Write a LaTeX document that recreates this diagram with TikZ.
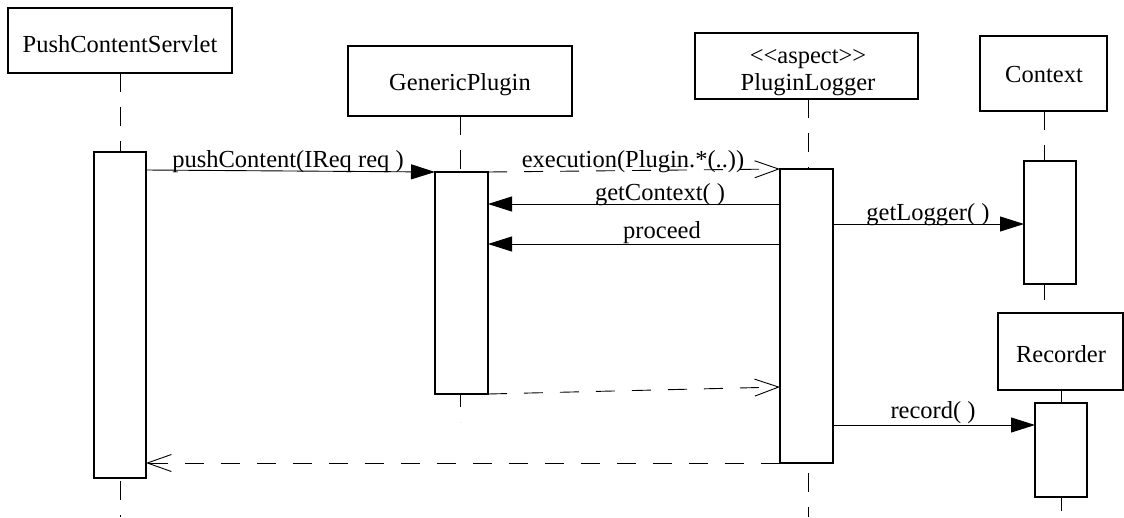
\documentclass[tikz,border=0pt]{standalone}
\usepackage{fontspec}
\setmainfont[Ligatures=NoCommon]{Liberation Serif}
\usetikzlibrary{arrows.meta}
\begin{document}
\begin{tikzpicture}[x=1pt,y=-1pt,
  every node/.style={font=\fontsize{24.5}{28}\selectfont, inner sep=0pt, outer sep=0pt},
  objbox/.style={draw, line width=1.1pt, fill=white},
  actbox/.style={draw, line width=1.1pt, fill=white, minimum width=52pt},
  life/.style={line width=0.9pt, dash pattern=on 19pt off 15pt},
  msg/.style={line width=0.9pt, -{Triangle[length=24pt,width=15pt]}},
  ret/.style={line width=0.9pt, dash pattern=on 19pt off 17pt, -{Straight Barb[length=24pt,width=17pt,line width=0.9pt]}},
  lbl/.style={anchor=base}]
\useasboundingbox (0,0) rectangle (1124,517);
% object boxes
\node[objbox, minimum width=224pt, minimum height=65pt] (S) at (120,40.5) {};
\node[objbox, minimum width=224pt, minimum height=70pt] (G) at (460,81) {};
\node[objbox, minimum width=223pt, minimum height=66pt] (L) at (806.5,66) {};
\node[objbox, minimum width=127pt, minimum height=75pt] (C) at (1043.5,73.5) {};
% lifeline ends
\coordinate (Send) at (120,517);
\coordinate (Gend) at (460,422);
\coordinate (Lend) at (808,517);
\coordinate (Cend) at (1044,313);
\coordinate (Rend) at (1061,517);
\draw[life] (S.south) -- (Send);
\draw[life] (G.south) -- (Gend);
\draw[life] (L.south -| Lend) -- (Lend);
\draw[life] (C.south -| Cend) -- (Cend);
% recorder box
\node[objbox, minimum width=125pt, minimum height=77pt] (R) at (1060.5,351.5) {};
\draw[life] (R.south -| Rend) -- (Rend);
% texts of objects
\node[lbl] (St) at (120,52) {PushContentServlet};
\node[lbl] (Gt) at (460,90) {GenericPlugin};
\node[lbl] (Lt1) at (808,63) {\textless{}\textless{}aspect\textgreater{}\textgreater{}};
\node[lbl] (Lt2) at (808,90) {PluginLogger};
\node[lbl] (Ct) at (1044,82) {Context};
\node[lbl] (Rt) at (1061,362) {Recorder};
% activations
\node[actbox, minimum height=326pt] (A1) at (120,315) {};
\node[actbox, minimum width=53pt, minimum height=222pt] (A2) at (461.5,283) {};
\node[actbox, minimum width=53pt, minimum height=294pt] (A3) at (806.5,316) {};
\node[actbox, minimum height=123pt] (A4) at (1050,222.5) {};
\node[actbox, minimum height=94pt] (A5) at (1061,450) {};
% messages
\draw[msg] ([yshift=-18pt]A1.north east) -- (A2.north west);
\draw[ret] (A2.north east) -- (A3.north west);
\draw[msg] ([yshift=-35pt]A3.north west) -- ([yshift=-32pt]A2.north east);
\draw[msg] ([yshift=-75pt]A3.north west) -- ([yshift=-72pt]A2.north east);
\draw[msg] ([yshift=-55pt]A3.north east) -- ([yshift=-63pt]A4.north west);
\draw[ret] (A2.south east) -- ([yshift=76pt]A3.south west);
\draw[msg] ([yshift=38pt]A3.south east) -- ([yshift=-22pt]A5.north west);
\draw[ret] (A3.south west) -- ([yshift=15pt]A1.south east);
% message labels
\node[lbl] (m1) at (288,167) {pushContent(IReq req )};
\node[lbl] (m2) at (633,167) {execution(Plugin.*(..))};
\node[lbl] (m3) at (660,200) {getContext( )};
\node[lbl] (m4) at (662,238) {proceed};
\node[lbl] (m5) at (928,220) {getLogger( )};
\node[lbl] (m7) at (933,418) {record( )};
\end{tikzpicture}
\end{document}
